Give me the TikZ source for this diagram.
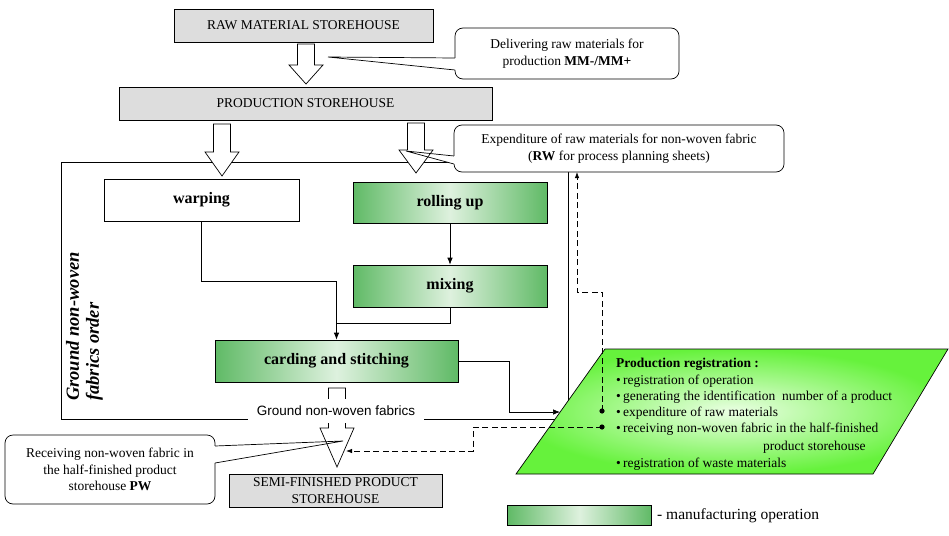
\documentclass[tikz,border=0pt]{standalone}
\usepackage{fontspec}
\setmainfont{Liberation Serif}
\newfontfamily\arialf{Liberation Sans}
\usetikzlibrary{arrows.meta}
\definecolor{boxgray}{RGB}{221,221,221}
\definecolor{gOut}{RGB}{96,186,102}
\definecolor{gIn}{RGB}{222,241,222}
\definecolor{rOut}{RGB}{102,242,60}
\definecolor{rIn}{RGB}{235,255,228}
\tikzset{
  ln/.style={line width=0.7pt},
  arr/.style={ln,-{Latex[length=7pt,width=5.5pt]}},
  dsh/.style={line width=0.8pt, dash pattern=on 6pt off 3.5pt},
  dsharr/.style={dsh,-{Latex[length=6pt,width=4.5pt]}},
  graybox/.style={draw, line width=0.7pt, fill=boxgray, font=\fontsize{13.5}{17}\selectfont, align=center, inner sep=0pt},
  opbox/.style={draw, line width=0.7pt, left color=gOut, right color=gOut, middle color=gIn, font=\bfseries\fontsize{16}{19}\selectfont, inner sep=0pt},
  plainbox/.style={draw, line width=0.7pt, fill=white, font=\bfseries\fontsize{16}{19}\selectfont, inner sep=0pt},
  callbox/.style={draw, line width=0.7pt, fill=white, rounded corners=8pt, font=\fontsize{13.5}{16.5}\selectfont, align=center, inner sep=0pt},
  blockarr/.style={draw, line width=0.7pt, fill=white, line join=miter},
  regtxt/.style={anchor=base west, inner sep=0pt, font=\fontsize{13.5}{16}\selectfont},
}
\begin{document}
\begin{tikzpicture}[x=1pt,y=-1pt]
\useasboundingbox (0,0) rectangle (949,535);

% frame of the order
\draw[ln] (61,162) rectangle (568,419);

% wedge of callout 2 (white, under the arrow)
\coordinate (t2) at (406,151);
\coordinate (b2a) at (454,156);
\coordinate (b2b) at (454,164);
\fill[white] (t2) -- (b2a) -- (b2b) -- cycle;

% block arrows
\draw[blockarr] (297.5,44) -- (314.5,44) -- (314.5,65) -- (323,65) -- (306,84) -- (289,65) -- (297.5,65) -- cycle;
\draw[blockarr] (213.5,124) -- (230.5,124) -- (230.5,152) -- (239,152) -- (222,176) -- (205,152) -- (213.5,152) -- cycle;
\draw[blockarr] (407.5,123) -- (424.5,123) -- (424.5,150) -- (433,150) -- (416,173) -- (399,150) -- (407.5,150) -- cycle;
\draw[blockarr] (328.5,388) -- (345.5,388) -- (345.5,428) -- (354,428) -- (337,467) -- (320,428) -- (328.5,428) -- cycle;

% boxes
\node[graybox, minimum width=259pt, minimum height=33pt] (raw) at (303.5,25.5) {RAW MATERIAL STOREHOUSE};
\node[graybox, minimum width=373pt, minimum height=33pt] (prod) at (305.5,103.5) {PRODUCTION STOREHOUSE};
\node[plainbox, minimum width=195pt, minimum height=42pt] (warping) at (201.5,200) {warping};
\node[opbox, minimum width=194pt, minimum height=41pt] (rolling) at (450,202.5) {rolling up};
\node[opbox, minimum width=194pt, minimum height=42pt] (mixing) at (450,286) {mixing};
\node[opbox, minimum width=243pt, minimum height=42pt] (carding) at (336.5,361) {carding and stitching};
\node[graybox, minimum width=213pt, minimum height=33pt] (semi) at (335.5,490.5) {SEMI-FINISHED PRODUCT\\STOREHOUSE};

% connectors
\coordinate (join) at (336.5,323);
\draw[arr] (warping.south) -- ++(0,60) -| (carding.north);
\draw[ln] (mixing.south) |- (join);
\draw[arr] (rolling.south) -- (mixing.north);
\coordinate (regL) at (560,412);
\draw[arr] (carding.east) -- ++(51,0) |- (regL);

% callout 1
\node[callbox, minimum width=224pt, minimum height=51pt] (c1) at (567,53.5) {Delivering raw materials for\\production \textbf{MM-/MM+}};
\coordinate (t1) at (328,57);
\coordinate (b1a) at (455,58);
\coordinate (b1b) at (455,70);
\fill[white] (t1) -- (b1a) -- (b1b) -- cycle;
\fill[white] (454,58) rectangle (456,70);
\draw[ln] (b1a) -- (t1) -- (b1b);

% callout 2
\node[callbox, minimum width=330pt, minimum height=47pt] (c2) at (619,148.5) {Expenditure of raw materials for non-woven fabric\\(\textbf{RW} for process planning sheets)};
\fill[white] (453,156) rectangle (455,164);
\draw[ln] (b2a) -- (t2) -- (b2b);

% callout 3
\node[callbox, minimum width=210pt, minimum height=69pt] (c3) at (110,469.5) {Receiving non-woven fabric in\\the half-finished product\\storehouse \textbf{PW}};
\coordinate (t3) at (343,441);
\coordinate (b3a) at (215,446);
\coordinate (b3b) at (215,463);
\fill[white] (214,446) rectangle (216,463);
\draw[ln] (b3a) -- (t3) -- (b3b);

% production registration
\draw[ln, inner color=rIn, outer color=rOut] (605,349) -- (948,349) -- (873,474) -- (516,474) -- cycle;
\node[regtxt, font=\bfseries\fontsize{13.5}{16}\selectfont] (rh) at (616,367) {Production registration :};
\node[regtxt] (r1) at (616,384) {\textbullet\,registration of operation};
\node[regtxt] (r2) at (616,400) {\textbullet\,generating the identification\ \ number of a product};
\node[regtxt] (r3) at (616,416) {\textbullet\,expenditure of raw materials};
\node[regtxt] (r4) at (616,432) {\textbullet\,receiving non-woven fabric in the half-finished};
\node[regtxt] (r4b) at (763,450) {product storehouse};
\node[regtxt] (r5) at (616,467) {\textbullet\,registration of waste materials};

% dashed links
\coordinate (dotE) at (602,411);
\coordinate (dotR) at (602,427);
\coordinate (c2in) at (577,172);
\coordinate (a4in) at (346,451);
\fill (dotE) circle (2.6pt);
\fill (dotR) circle (2.6pt);
\draw[dsharr] (dotE) |- (577,292) -- (c2in);
\draw[dsharr] (dotR) -- (473,427) |- (a4in);

% label of the semi-product flow
\node[fill=white, inner xsep=9pt, inner ysep=7pt, font=\arialf\fontsize{13.5}{16}\selectfont] (gnf) at (336,411) {Ground non-woven fabrics};

% order label
\node[rotate=90, anchor=west, align=left, inner sep=0pt, font=\bfseries\itshape\fontsize{18.5}{20}\selectfont] (order) at (84.5,401) {Ground non-woven\\fabrics order};

% legend
\node[opbox, minimum width=144pt, minimum height=20pt] (leg) at (579.5,515) {};
\node[anchor=west, inner sep=0pt, font=\fontsize{15.5}{18}\selectfont] (legt) at (657,516) {- manufacturing operation};
\end{tikzpicture}
\end{document}
